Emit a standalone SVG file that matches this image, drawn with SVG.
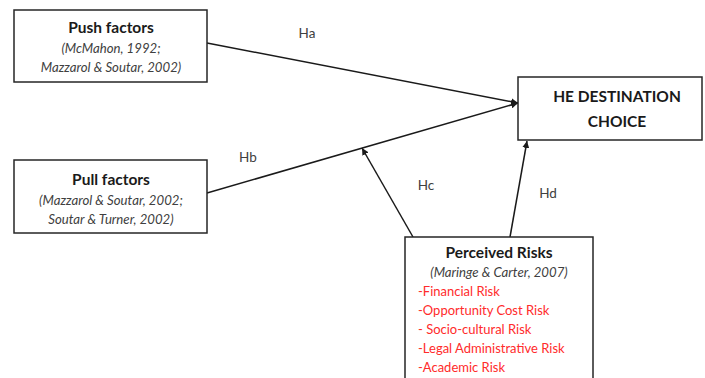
<svg xmlns="http://www.w3.org/2000/svg" width="705" height="378" viewBox="0 0 705 378">
<style>
.box{fill:#fff;stroke:#262626;stroke-width:1.5}
.t{font-family:Lato,"Open Sans","Liberation Sans",sans-serif;font-weight:bold;font-size:15.5px;fill:#1a1a1a;text-anchor:middle}
.r{font-family:Lato,"Open Sans","Liberation Sans",sans-serif;font-style:italic;font-size:13.2px;fill:#404040;text-anchor:middle}
.k{font-family:Lato,"Open Sans","Liberation Sans",sans-serif;font-size:13px;fill:#ff2b2b}
.h{font-family:Lato,"Open Sans","Liberation Sans",sans-serif;font-size:13.5px;fill:#404040;text-anchor:middle}
.c{stroke:#1a1a1a;stroke-width:1.5;fill:none;marker-end:url(#ah)}
</style>
<defs>
<marker id="ah" viewBox="0 0 10 10" refX="10" refY="5" markerWidth="7" markerHeight="7" markerUnits="userSpaceOnUse" orient="auto">
<path d="M0,0 L10,5 L0,10 z" fill="#1a1a1a"/>
</marker>
</defs>
<rect width="705" height="378" fill="#fff"/>
<g id="connectors">
<line class="c" x1="207" y1="43" x2="518" y2="103"/>
<line class="c" x1="207" y1="193" x2="518" y2="103"/>
<line class="c" x1="413" y1="237" x2="362" y2="148"/>
<line class="c" x1="510" y1="237" x2="527" y2="141"/>
<text class="h" x="307" y="38">Ha</text>
<text class="h" x="248" y="162">Hb</text>
<text class="h" x="426" y="190">Hc</text>
<text class="h" x="548" y="198">Hd</text>
</g>
<g id="push">
<rect class="box" x="14" y="10" width="193" height="72"/>
<text class="t" x="111" y="33">Push factors</text>
<text class="r" x="111" y="53">(McMahon, 1992;</text>
<text class="r" x="111" y="72">Mazzarol &amp; Soutar, 2002)</text>
</g>
<g id="pull">
<rect class="box" x="14" y="160" width="193" height="73"/>
<text class="t" x="111" y="185">Pull factors</text>
<text class="r" x="111" y="205">(Mazzarol &amp; Soutar, 2002;</text>
<text class="r" x="111" y="224">Soutar &amp; Turner, 2002)</text>
</g>
<g id="destination">
<rect class="box" x="518" y="77" width="184" height="63"/>
<text class="t" x="617" y="102">HE DESTINATION</text>
<text class="t" x="617" y="127">CHOICE</text>
</g>
<g id="risks">
<rect class="box" x="405" y="237" width="188" height="150"/>
<text class="t" x="499" y="258">Perceived Risks</text>
<text class="r" x="499" y="277">(Maringe &amp; Carter, 2007)</text>
<text class="k" x="418" y="296">-Financial Risk</text>
<text class="k" x="418" y="315">-Opportunity Cost Risk</text>
<text class="k" x="418" y="334">- Socio-cultural Risk</text>
<text class="k" x="418" y="353">-Legal Administrative Risk</text>
<text class="k" x="418" y="372">-Academic Risk</text>
</g>
</svg>
